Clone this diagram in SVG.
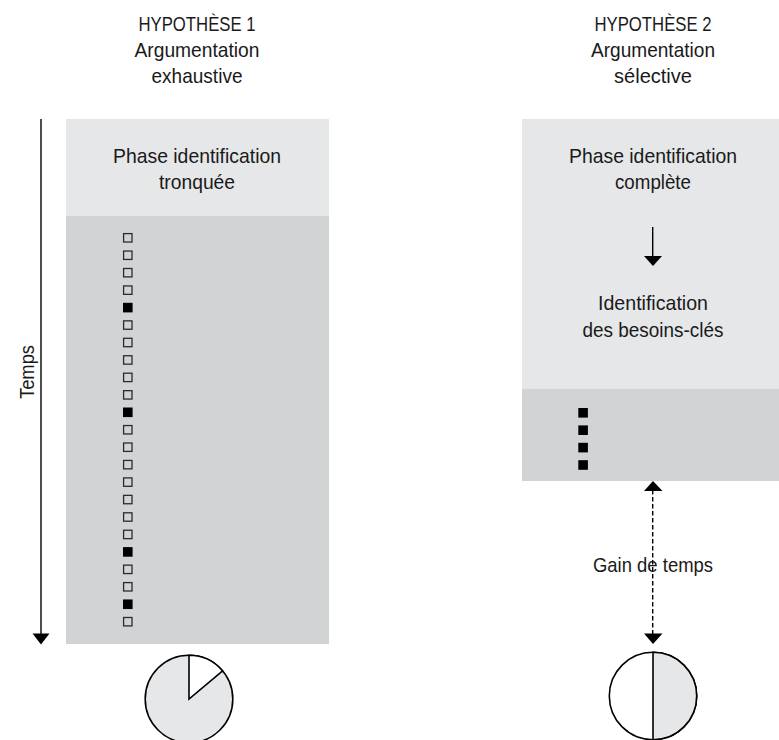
<svg xmlns="http://www.w3.org/2000/svg" width="779" height="740" viewBox="0 0 779 740">
<style>
text{font-family:"Liberation Sans",Arial,sans-serif;font-size:21px;fill:#1a1a1a;text-anchor:middle}
.light{fill:#e6e7e8}
.dark{fill:#d1d3d4}
.sq{fill:none;stroke:#2b2b2b;stroke-width:1.3}
.fsq{fill:#000}
.ln{stroke:#000;stroke-width:1.4;fill:none}
.dash{stroke:#000;stroke-width:1.4;fill:none;stroke-dasharray:4.5 2.5}
.pie{stroke:#000;stroke-width:1.6}
</style>
<defs>
<rect id="es" class="sq" width="8.4" height="8.4"/>
<rect id="fs" class="fsq" width="9.6" height="9.6"/>
</defs>

<g id="col1-title">
<text x="197" y="31" textLength="117" lengthAdjust="spacingAndGlyphs">HYPOTHÈSE 1</text>
<text x="197" y="57" textLength="125" lengthAdjust="spacingAndGlyphs">Argumentation</text>
<text x="197" y="83" textLength="91" lengthAdjust="spacingAndGlyphs">exhaustive</text>
</g>

<g id="col2-title">
<text x="653" y="31" textLength="117" lengthAdjust="spacingAndGlyphs">HYPOTHÈSE 2</text>
<text x="653" y="57" textLength="124" lengthAdjust="spacingAndGlyphs">Argumentation</text>
<text x="653" y="83" textLength="78" lengthAdjust="spacingAndGlyphs">sélective</text>
</g>

<g id="timeline">
<line class="ln" x1="41" y1="119" x2="41" y2="636"/>
<polygon points="32.5,633.5 49.5,633.5 41,644.5" fill="#000"/>
<text transform="translate(34,372) rotate(-90)" x="0" y="0" textLength="54" lengthAdjust="spacingAndGlyphs">Temps</text>
</g>

<g id="box1">
<rect class="light" x="66" y="119" width="263" height="97"/>
<rect class="dark" x="66" y="216" width="263" height="428"/>
<text x="197" y="162.5" textLength="168" lengthAdjust="spacingAndGlyphs">Phase identification</text>
<text x="197" y="189" textLength="76" lengthAdjust="spacingAndGlyphs">tronquée</text>
<g id="squares1">
<use href="#es" x="123.6" y="233.6"/>
<use href="#es" x="123.6" y="251.05"/>
<use href="#es" x="123.6" y="268.5"/>
<use href="#es" x="123.6" y="285.95"/>
<use href="#fs" x="123" y="302.8"/>
<use href="#es" x="123.6" y="320.85"/>
<use href="#es" x="123.6" y="338.3"/>
<use href="#es" x="123.6" y="355.75"/>
<use href="#es" x="123.6" y="373.2"/>
<use href="#es" x="123.6" y="390.65"/>
<use href="#fs" x="123" y="407.5"/>
<use href="#es" x="123.6" y="425.55"/>
<use href="#es" x="123.6" y="443"/>
<use href="#es" x="123.6" y="460.45"/>
<use href="#es" x="123.6" y="477.9"/>
<use href="#es" x="123.6" y="495.35"/>
<use href="#es" x="123.6" y="512.8"/>
<use href="#es" x="123.6" y="530.25"/>
<use href="#fs" x="123" y="547.1"/>
<use href="#es" x="123.6" y="565.15"/>
<use href="#es" x="123.6" y="582.6"/>
<use href="#fs" x="123" y="599.45"/>
<use href="#es" x="123.6" y="617.5"/>
</g>
</g>

<g id="box2">
<rect class="light" x="522" y="119" width="257" height="270"/>
<rect class="dark" x="522" y="389" width="257" height="92"/>
<text x="653" y="162.5" textLength="168" lengthAdjust="spacingAndGlyphs">Phase identification</text>
<text x="653" y="189" textLength="76" lengthAdjust="spacingAndGlyphs">complète</text>
<line class="ln" x1="652.7" y1="227" x2="652.7" y2="258"/>
<polygon points="644,256 662,256 653,266" fill="#000"/>
<text x="653" y="310" textLength="110" lengthAdjust="spacingAndGlyphs">Identification</text>
<text x="653" y="337" textLength="141" lengthAdjust="spacingAndGlyphs">des besoins-clés</text>
<g id="squares2">
<use href="#fs" x="578.3" y="408"/>
<use href="#fs" x="578.3" y="425.4"/>
<use href="#fs" x="578.3" y="442.8"/>
<use href="#fs" x="578.3" y="460.2"/>
</g>
</g>

<g id="connectors">
<line class="dash" x1="652.7" y1="490" x2="652.7" y2="635"/>
<polygon points="644,491 662.5,491 653,481" fill="#000"/>
<polygon points="644,633.5 662.5,633.5 653,644" fill="#000"/>
</g>

<g id="gain-label">
<text x="653" y="572" textLength="120" lengthAdjust="spacingAndGlyphs">Gain de temps</text>
</g>

<g id="pie1">
<circle class="pie" cx="189" cy="699" r="43.8" fill="#e6e7e8"/>
<path class="pie" d="M189,699 L189,655.2 A43.8,43.8 0 0 1 222.6,670.9 Z" fill="#fff"/>
</g>

<g id="pie2">
<circle class="pie" cx="653" cy="696" r="43.7" fill="#fff"/>
<path class="pie" d="M653,652.3 A43.7,43.7 0 0 1 653,739.7 Z" fill="#e6e7e8"/>
</g>
</svg>
